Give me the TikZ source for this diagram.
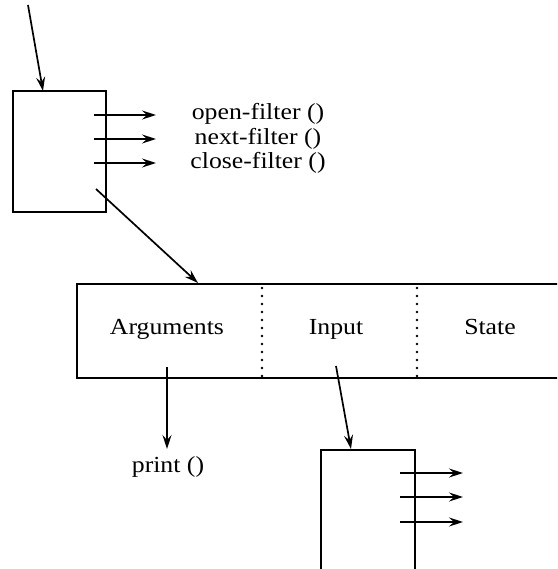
\documentclass[tikz,border=0pt]{standalone}
\usepackage{fontspec}
\setmainfont{Liberation Serif}[FakeStretch=1.12]
\usetikzlibrary{arrows.meta,calc}
\begin{document}
\begin{tikzpicture}[x=1pt,y=-1pt,
  box/.style={draw,line width=1.7pt,inner sep=0pt},
  conn/.style={line width=1.7pt,-{Stealth[length=14pt,width=9pt,inset=5pt]}},
  lbl/.style={font=\fontsize{23}{24}\selectfont,inner sep=0pt,anchor=base},
  blbl/.style={font=\fontsize{23}{24}\selectfont,inner sep=0pt,anchor=base},
  dotline/.style={line width=2.8pt,line cap=round,dash pattern=on 0pt off 8pt}]
\clip (0,0) rectangle (557,569);
% top box
\node[box,minimum width=93pt,minimum height=121pt] (tb) at (59.5,151.5) {};
\coordinate (tin) at (28,5);
\coordinate (tinend) at (43,91);
\draw[conn] (tin) -- (tinend);
\foreach \y/\b/\t [count=\i] in {115/120/open-filter (),139/144.3/next-filter (),163/168.5/close-filter ()}{
  \coordinate (ta\i) at (94,\y);
  \coordinate (tb\i) at (156,\y);
  \draw[conn] (ta\i) -- (tb\i);
  \node[lbl] (tl\i) at (258,\b) {\t};
}
% big box
\node[box,minimum width=520pt,minimum height=94pt,anchor=north west] (bb) at (76,283) {};
\coordinate (d1a) at (262,288);
\coordinate (d1b) at (262,376);
\coordinate (d2a) at (417,288);
\coordinate (d2b) at (417,376);
\draw[dotline] (d1a) -- (d1b);
\draw[dotline] (d2a) -- (d2b);
\node[blbl] (arg) at (167,334.5) {Arguments};
\node[blbl] (inp) at (336,334.5) {Input};
\node[blbl] (st) at (490,334.5) {State};
\coordinate (ds) at (96,189);
\coordinate (de) at (198,283);
\draw[conn] (ds) -- (de);
% print
\coordinate (ps) at (167,367);
\coordinate (pe) at (167,449);
\draw[conn] (ps) -- (pe);
\node[lbl] (pr) at (168,472.7) {print ()};
% lower box
\node[box,minimum width=94pt,minimum height=150pt,anchor=north west] (lb) at (320,449) {};
\coordinate (is) at (336,366);
\coordinate (ie) at (351,449);
\draw[conn] (is) -- (ie);
\foreach \y [count=\i] in {473,497,522}{
  \coordinate (la\i) at (400,\y);
  \coordinate (lb\i) at (463,\y);
  \draw[conn] (la\i) -- (lb\i);
}
\end{tikzpicture}
\end{document}
